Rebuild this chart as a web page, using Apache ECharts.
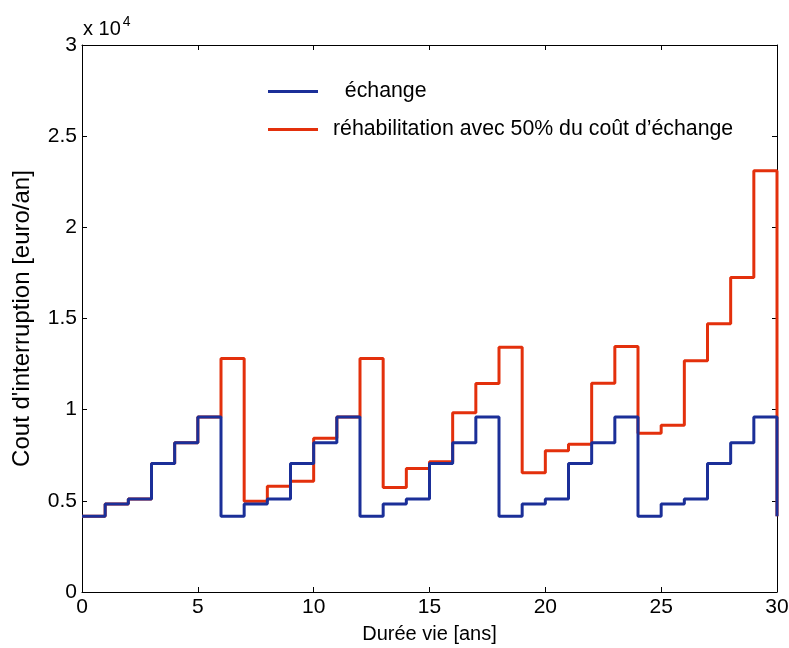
<!DOCTYPE html>
<html>
<head>
<meta charset="utf-8">
<script src="https://cdn.jsdelivr.net/npm/echarts@6/dist/echarts.min.js"></script>
<style>
html,body{margin:0;padding:0;background:#fff;}
#chart{width:789px;height:648px;}
</style>
</head>
<body>
<div id="chart"></div>
<script>
const years = [0,1,2,3,4,5,6,7,8,9,10,11,12,13,14,15,16,17,18,19,20,21,22,23,24,25,26,27,28,29,30];
const echangeCost = [4150,4830,5100,7050,8180,9600,4150,4830,5100,7050,8180,9600,4150,4830,5100,7050,8180,9600,4150,4830,5100,7050,8180,9600,4150,4830,5100,7050,8180,9600,4150];
const rehabCost = [4150,4830,5100,7050,8180,9600,12800,4980,5800,6080,8430,9600,12800,5730,6780,7140,9830,11430,13430,6540,7740,8100,11450,13460,8700,9140,12680,14710,17250,23100,4150];
const xTicks = [0,5,10,15,20,25,30];
const yTickLabels = ['0','0.5','1','1.5','2','2.5','3'];
const seriesNames = ['  échange', 'réhabilitation avec 50% du coût d\u2019échange'];

const font = 'Liberation Sans, Arial, sans-serif';
const chart = echarts.init(document.getElementById('chart'), null, {renderer:'canvas'});

const axisLine = {show:true, onZero:false, lineStyle:{color:'#000', width:1}};
const tickStyle = {show:true, inside:true, length:5, lineStyle:{color:'#000', width:1}};

chart.setOption({
  animation:false,
  backgroundColor:'#fff',
  grid:{left:82, right:12, top:45, bottom:56, containLabel:false, outerBoundsMode:'none'},
  legend:{
    orient:'vertical', left:268, top:81, padding:0,
    itemWidth:50, itemHeight:3, itemGap:17,
    icon:'rect',
    data:seriesNames,
    textStyle:{fontFamily:font, fontSize:21.3, lineHeight:21, color:'#000', padding:[0,0,0,10]}
  },
  xAxis:[{
    type:'value', min:0, max:30, interval:5,
    axisLine:axisLine, axisTick:tickStyle, splitLine:{show:false},
    axisLabel:{fontFamily:font, fontSize:21, color:'#000', margin:5,
      formatter:function(v){return xTicks.indexOf(v)>=0 ? String(v) : '';}},
    name:'Durée vie [ans]', nameLocation:'middle', nameGap:32,
    nameTextStyle:{fontFamily:font, fontSize:20, color:'#000'}
  },{
    type:'value', min:0, max:30, interval:5, position:'top',
    axisLine:axisLine, axisTick:tickStyle, splitLine:{show:false}, axisLabel:{show:false}
  }],
  yAxis:[{
    type:'value', min:0, max:30000, interval:5000,
    axisLine:axisLine, axisTick:tickStyle, splitLine:{show:false},
    axisLabel:{fontFamily:font, fontSize:21, color:'#000', margin:5,
      formatter:function(v){return yTickLabels[Math.round(v/5000)];}},
    name:'Cout d\'interruption [euro/an]', nameLocation:'middle', nameGap:48,
    nameTextStyle:{fontFamily:font, fontSize:24, color:'#000'}
  },{
    type:'value', min:0, max:30000, interval:5000, position:'right',
    axisLine:axisLine, axisTick:tickStyle, splitLine:{show:false}, axisLabel:{show:false}
  }],
  graphic:[{
    type:'text', left:83, top:15,
    style:{
      text:'{a|x 10}{b|4}',
      rich:{
        a:{fontFamily:font, fontSize:20, fill:'#000'},
        b:{fontFamily:font, fontSize:14, fill:'#000', verticalAlign:'top', padding:[0,0,14,2]}
      }
    }
  }],
  series:[{
    name:seriesNames[1], type:'line', step:'end', showSymbol:false, symbol:'none',
    data:years.map((x,i)=>[x, rehabCost[i]]),
    lineStyle:{color:'#e3300c', width:3}, itemStyle:{color:'#e3300c'}, z:2
  },{
    name:seriesNames[0], type:'line', step:'end', showSymbol:false, symbol:'none',
    data:years.map((x,i)=>[x, echangeCost[i]]),
    lineStyle:{color:'#1b2f98', width:3}, itemStyle:{color:'#1b2f98'}, z:3
  }]
});
</script>
</body>
</html>
